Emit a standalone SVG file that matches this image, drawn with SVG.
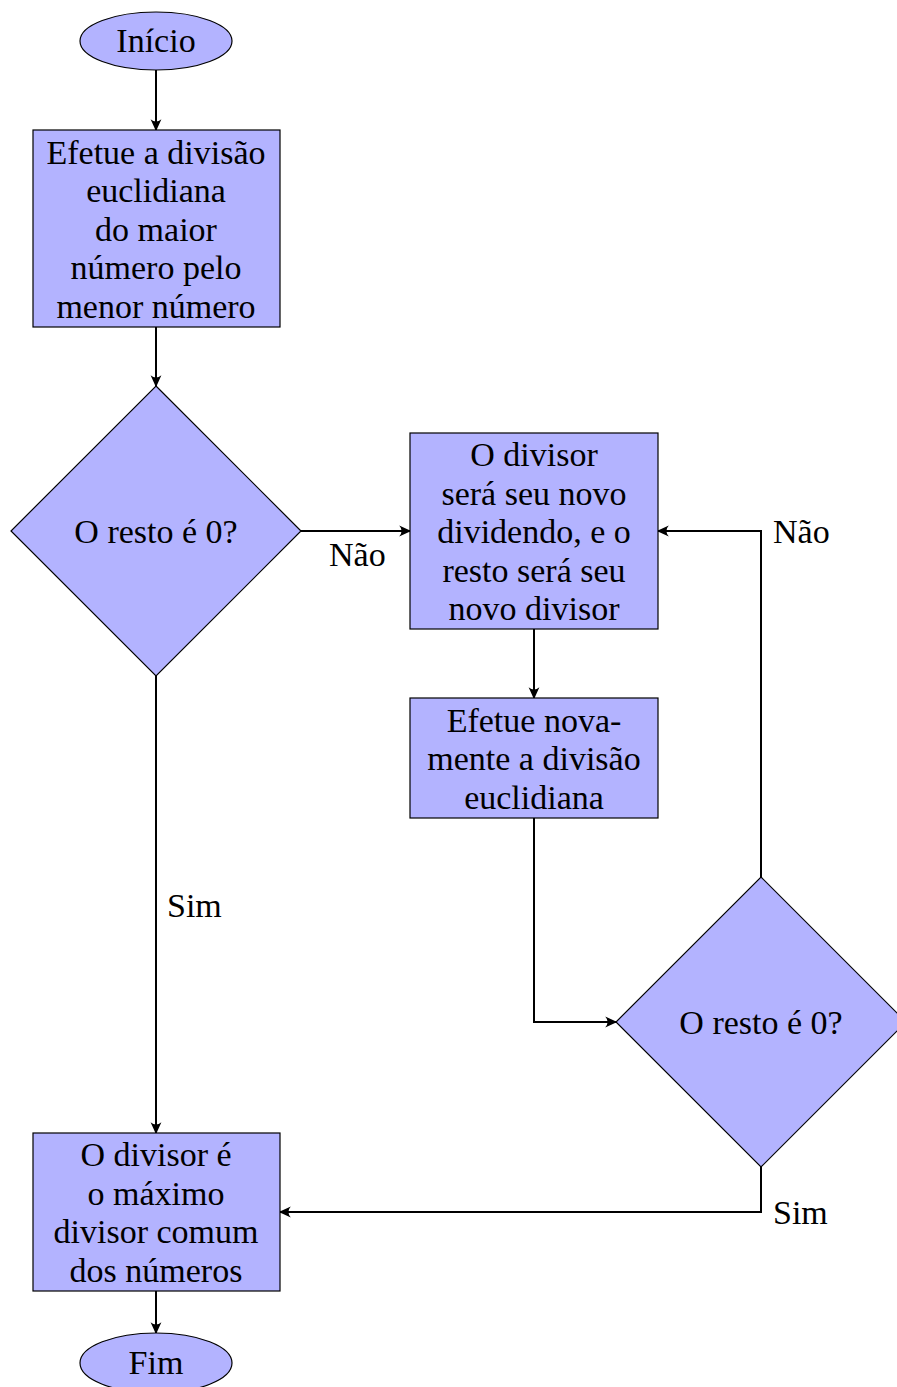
<svg xmlns="http://www.w3.org/2000/svg" width="897" height="1387" viewBox="0 0 897 1387">
  <style>
    .node { fill: #b3b3ff; stroke: #000; stroke-width: 1.2; }
    .lbl { font-family: "Liberation Serif", "DejaVu Serif", serif; font-size: 34px; fill: #000; text-anchor: middle; }
    .edge-lbl { font-family: "Liberation Serif", "DejaVu Serif", serif; font-size: 34px; fill: #000; }
    .edge { fill: none; stroke: #000; stroke-width: 2; marker-end: url(#arrow); }
  </style>
  <defs>
    <marker id="arrow" viewBox="0 0 10 10" refX="9" refY="5" markerWidth="12" markerHeight="12" markerUnits="userSpaceOnUse" orient="auto" overflow="visible">
      <path d="M0,0.5 Q4,5 0,9.5 L10,5 Z" fill="#000"/>
    </marker>
  </defs>
  <rect width="897" height="1387" fill="#fff"/>

  <g id="connectors">
    <path class="edge" d="M156,70 V130"/>
    <path class="edge" d="M156,327 V386"/>
    <path class="edge" d="M301,531 H410"/>
    <path class="edge" d="M534,629 V698"/>
    <path class="edge" d="M534,818 V1022 H616"/>
    <path class="edge" d="M761,877 V531 H658"/>
    <path class="edge" d="M156,676 V1133"/>
    <path class="edge" d="M761,1167 V1212 H280"/>
    <path class="edge" d="M156,1291 V1333"/>
    <text class="edge-lbl" x="329" y="566">Não</text>
    <text class="edge-lbl" x="773" y="543">Não</text>
    <text class="edge-lbl" x="167" y="917">Sim</text>
    <text class="edge-lbl" x="773" y="1224">Sim</text>
  </g>

  <g id="inicio">
    <ellipse class="node" cx="156" cy="41" rx="76" ry="29"/>
    <text class="lbl" x="156" y="52">Início</text>
  </g>

  <g id="divisao">
    <rect class="node" x="33" y="130" width="247" height="197"/>
    <text class="lbl" x="156" y="164">Efetue a divisão</text>
    <text class="lbl" x="156" y="202">euclidiana</text>
    <text class="lbl" x="156" y="241">do maior</text>
    <text class="lbl" x="156" y="279">número pelo</text>
    <text class="lbl" x="156" y="318">menor número</text>
  </g>

  <g id="teste1">
    <polygon class="node" points="156,386 301,531 156,676 11,531"/>
    <text class="lbl" x="156" y="543">O resto é 0?</text>
  </g>

  <g id="troca">
    <rect class="node" x="410" y="433" width="248" height="196"/>
    <text class="lbl" x="534" y="466">O divisor</text>
    <text class="lbl" x="534" y="505">será seu novo</text>
    <text class="lbl" x="534" y="543">dividendo, e o</text>
    <text class="lbl" x="534" y="582">resto será seu</text>
    <text class="lbl" x="534" y="620">novo divisor</text>
  </g>

  <g id="nova-divisao">
    <rect class="node" x="410" y="698" width="248" height="120"/>
    <text class="lbl" x="534" y="732">Efetue nova-</text>
    <text class="lbl" x="534" y="770">mente a divisão</text>
    <text class="lbl" x="534" y="809">euclidiana</text>
  </g>

  <g id="teste2">
    <polygon class="node" points="761,877 906,1022 761,1167 616,1022"/>
    <text class="lbl" x="761" y="1034">O resto é 0?</text>
  </g>

  <g id="resultado">
    <rect class="node" x="33" y="1133" width="247" height="158"/>
    <text class="lbl" x="156" y="1166">O divisor é</text>
    <text class="lbl" x="156" y="1205">o máximo</text>
    <text class="lbl" x="156" y="1243">divisor comum</text>
    <text class="lbl" x="156" y="1282">dos números</text>
  </g>

  <g id="fim">
    <ellipse class="node" cx="156" cy="1363" rx="76" ry="30"/>
    <text class="lbl" x="156" y="1374">Fim</text>
  </g>
</svg>
